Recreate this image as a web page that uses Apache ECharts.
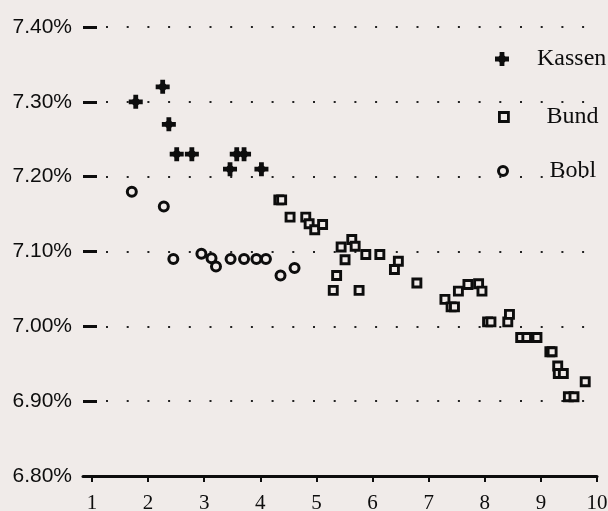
<!DOCTYPE html>
<html>
<head>
<meta charset="utf-8">
<script src="https://cdn.jsdelivr.net/npm/echarts@6/dist/echarts.min.js"></script>
<style>
  html, body { margin: 0; padding: 0; background: #f0ebe9; }
  #chart { width: 608px; height: 511px; }
</style>
</head>
<body>
<div id="chart"></div>
<script>
// Yields (%) against remaining maturity (years)
const xTicks = [1, 2, 3, 4, 5, 6, 7, 8, 9, 10];

const kassen = [
  [1.78, 7.30], [2.26, 7.32], [2.37, 7.27], [2.51, 7.23], [2.78, 7.23],
  [3.46, 7.21], [3.58, 7.23], [3.71, 7.23], [4.02, 7.21]
];

const bund = [
  [4.33, 7.169], [4.38, 7.169], [4.53, 7.146], [4.81, 7.146], [4.87, 7.137],
  [4.97, 7.129], [5.11, 7.136], [5.30, 7.048], [5.36, 7.068], [5.44, 7.106],
  [5.51, 7.089], [5.63, 7.116], [5.69, 7.107], [5.76, 7.048], [5.88, 7.096],
  [6.13, 7.096], [6.39, 7.076], [6.46, 7.087], [6.79, 7.058],
  [7.29, 7.036], [7.40, 7.026], [7.46, 7.026], [7.53, 7.047], [7.70, 7.056],
  [7.89, 7.057], [7.95, 7.047], [8.05, 7.006], [8.11, 7.006], [8.41, 7.006],
  [8.44, 7.016], [8.64, 6.985], [8.75, 6.985], [8.89, 6.985], [8.93, 6.985],
  [9.16, 6.966], [9.20, 6.966], [9.30, 6.947], [9.31, 6.937], [9.40, 6.937],
  [9.49, 6.906], [9.59, 6.906], [9.79, 6.926]
];

const bobl = [
  [1.71, 7.18], [2.28, 7.16], [2.45, 7.09], [2.95, 7.097], [3.13, 7.091],
  [3.21, 7.080], [3.47, 7.09], [3.71, 7.09], [3.93, 7.09], [4.10, 7.09],
  [4.36, 7.068], [4.61, 7.078]
];

const BG = '#f0ebe9';
const INK = '#0d0d0d';
// bold plus sign with a slightly swollen centre
const PLUS = 'path://M4.6,0H9.4V3.6L10.4,4.6H14V9.4H10.4L9.4,10.4V14H4.6V10.4L3.6,9.4H0V4.6H3.6L4.6,3.6Z';

const chart = echarts.init(document.getElementById('chart'), null, { renderer: 'canvas' });

function legendItem(name, left, top, w, h, pad, itemStyle) {
  return {
    data: [name],
    orient: 'vertical',
    left: left,
    top: top,
    padding: 0,
    itemWidth: w,
    itemHeight: h,
    selectedMode: false,
    itemStyle: itemStyle,
    textStyle: {
      fontFamily: 'Liberation Serif',
      fontSize: 24,
      color: INK,
      padding: [0, 0, 0, pad]
    }
  };
}

chart.setOption({
  backgroundColor: BG,
  animation: false,
  grid: { left: 83, right: 11, top: 27, bottom: 35, containLabel: false, outerBoundsMode: 'none' },
  legend: [
    legendItem('Kassen', 495, 47, 14, 14, 23, { color: INK, borderWidth: 0 }),
    legendItem('Bund', 498, 105, 9, 9, 33, { color: BG, borderColor: INK, borderWidth: 2.8 }),
    legendItem('Bobl', 497, 159, 9, 9, 37, { color: BG, borderColor: INK, borderWidth: 3 })
  ],
  xAxis: {
    type: 'value',
    min: 0.84,
    max: 10,
    axisLine: { show: true, onZero: false, lineStyle: { color: INK, width: 3 } },
    axisTick: {
      show: true,
      customValues: xTicks,
      length: 6,
      lineStyle: { color: INK, width: 2 }
    },
    axisLabel: {
      customValues: xTicks,
      margin: 17,
      fontFamily: 'Liberation Serif',
      fontSize: 21,
      color: INK
    },
    splitLine: { show: false }
  },
  yAxis: {
    type: 'value',
    min: 6.8,
    max: 7.4,
    interval: 0.1,
    axisLine: { show: false },
    axisTick: {
      show: true,
      inside: true,
      length: 14,
      lineStyle: { color: INK, width: 3 }
    },
    axisLabel: {
      margin: 11,
      fontFamily: 'Liberation Sans',
      fontSize: 21,
      color: INK,
      formatter: v => v.toFixed(2) + '%'
    },
    splitLine: {
      show: true,
      lineStyle: { color: '#222', width: 2, type: [2, 18.7], dashOffset: 18.4 }
    }
  },
  series: [
    {
      name: 'Kassen',
      type: 'scatter',
      data: kassen,
      symbol: PLUS,
      symbolSize: 14,
      itemStyle: { color: INK, opacity: 1 }
    },
    {
      name: 'Bund',
      type: 'scatter',
      data: bund,
      symbol: 'rect',
      symbolSize: 8,
      itemStyle: { color: BG, borderColor: INK, borderWidth: 2.9, opacity: 1 }
    },
    {
      name: 'Bobl',
      type: 'scatter',
      data: bobl,
      symbol: 'circle',
      symbolSize: 9,
      itemStyle: { color: BG, borderColor: INK, borderWidth: 3, opacity: 1 }
    }
  ]
});
</script>
</body>
</html>
